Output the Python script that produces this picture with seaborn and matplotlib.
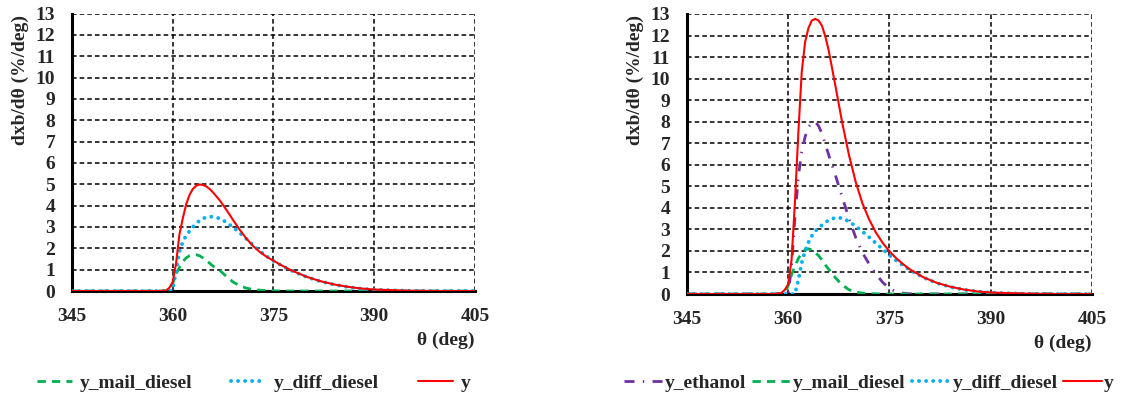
import numpy as np
import pandas as pd
import matplotlib
matplotlib.use('Agg')
import matplotlib.pyplot as plt
import seaborn as sns

# crank angle samples (deg)
theta = [345, 350, 355, 358, 359, 359.5, 360, 360.5, 361, 361.5,
         362, 362.5, 363, 363.5, 364, 364.5, 365, 365.5, 366, 367,
         368, 369, 370, 371, 372, 373, 374, 375, 376, 377,
         378, 380, 382, 384, 386, 388, 390, 395, 400, 405]

# left panel: diesel only
left_y = [0, 0, 0, 0, 0.02, 0.15, 0.42, 1.3, 2.65, 3.4,
          4.05, 4.5, 4.78, 4.93, 4.99, 4.97, 4.9, 4.78, 4.62, 4.25,
          3.8, 3.32, 2.86, 2.45, 2.1, 1.82, 1.6, 1.42, 1.24, 1.07,
          0.92, 0.66, 0.46, 0.31, 0.2, 0.12, 0.07, 0.015, 0, 0]
left_diff = [0, 0, 0, 0, 0, 0, 0.05, 0.95, 1.85, 2.3,
             2.6, 2.8, 3.0, 3.15, 3.3, 3.4, 3.45, 3.48, 3.48, 3.4,
             3.22, 2.98, 2.72, 2.43, 2.14, 1.86, 1.62, 1.41, 1.23, 1.06,
             0.91, 0.65, 0.45, 0.3, 0.19, 0.11, 0.06, 0.01, 0, 0]
left_mail = [0, 0, 0, 0, 0, 0.05, 0.35, 0.8, 1.1, 1.38,
             1.55, 1.65, 1.7, 1.7, 1.65, 1.55, 1.45, 1.3, 1.17, 0.97,
             0.68, 0.42, 0.24, 0.13, 0.07, 0.04, 0.02, 0.01, 0, 0,
             0, 0, 0, 0, 0, 0, 0, 0, 0, 0]

# right panel: ethanol + diesel
right_y = [0, 0, 0, 0, 0.05, 0.2, 0.45, 1.6, 4.3, 7.5,
           10.3, 11.7, 12.35, 12.7, 12.77, 12.7, 12.45, 11.95, 11.3, 9.65,
           7.95, 6.45, 5.2, 4.2, 3.45, 2.85, 2.37, 1.98, 1.66, 1.39,
           1.15, 0.78, 0.52, 0.34, 0.21, 0.12, 0.07, 0.02, 0, 0]
right_eth = [0, 0, 0, 0, 0, 0, 0, 1.3, 3.6, 5.45,
             6.6, 7.3, 7.75, 7.95, 8.0, 7.8, 7.45, 6.95, 6.45, 5.5,
             4.5, 3.5, 2.62, 1.92, 1.38, 0.92, 0.54, 0.26, 0.1, 0.04,
             0.01, 0, 0, 0, 0, 0, 0, 0, 0, 0]
right_mail = [0, 0, 0, 0, 0, 0.05, 0.4, 0.9, 1.3, 1.65,
              1.9, 2.05, 2.1, 2.05, 1.93, 1.78, 1.58, 1.35, 1.15, 0.75,
              0.42, 0.2, 0.09, 0.04, 0.02, 0.01, 0, 0, 0, 0,
              0, 0, 0, 0, 0, 0, 0, 0, 0, 0]
right_diff = [0, 0, 0, 0, 0, 0, 0, 0, 0, 0.65,
              1.45, 2.0, 2.4, 2.7, 2.92, 3.07, 3.2, 3.33, 3.42, 3.55,
              3.52, 3.37, 3.15, 2.9, 2.63, 2.36, 2.08, 1.8, 1.55, 1.33,
              1.12, 0.77, 0.51, 0.33, 0.2, 0.12, 0.06, 0.01, 0, 0]

xticks = [345, 360, 375, 390, 405]
yticks = list(range(0, 14))

sns.set_style('white')
plt.rcParams['font.family'] = ['Liberation Serif', 'DejaVu Serif']
plt.rcParams['font.weight'] = 'bold'
plt.rcParams['font.size'] = 14

RED = '#FF0000'
BLUE = '#00B0F0'
GREEN = '#00B050'
PURPLE = '#7030A0'

styles = {
    'y_ethanol': dict(color=PURPLE, lw=2, linestyle=(0, (3.6, 3, 0.5, 3))),
    'y_mail_diesel': dict(color=GREEN, lw=2, linestyle=(0, (3, 2.2))),
    'y_diff_diesel': dict(color=BLUE, lw=2.8, linestyle=(0, (0.01, 1.8)),
                          dash_capstyle='round'),
    'y': dict(color=RED, lw=1.5, linestyle='-'),
}

left_df = pd.DataFrame({'theta': theta, 'y_mail_diesel': left_mail,
                        'y_diff_diesel': left_diff, 'y': left_y})
right_df = pd.DataFrame({'theta': theta, 'y_ethanol': right_eth,
                         'y_mail_diesel': right_mail,
                         'y_diff_diesel': right_diff, 'y': right_y})

fig = plt.figure(figsize=(11.26, 4.01), dpi=100)
ax1 = fig.add_axes([0.0639, 0.2743, 0.3579, 0.692])
ax2 = fig.add_axes([0.6101, 0.2668, 0.3597, 0.6983])


def draw_panel(ax, df, cols):
    for c in cols:
        sns.lineplot(data=df, x='theta', y=c, ax=ax, label=c, zorder=3,
                     **styles[c])
    ax.set_xlim(345, 405)
    ax.set_ylim(0, 13)
    ax.set_xticks(xticks)
    ax.set_yticks(yticks)
    ax.grid(True, color='black', lw=1.1, linestyle=(0, (3, 2)))
    ax.tick_params(length=0, pad=12, labelsize=14)
    for s in ['top', 'right']:
        ax.spines[s].set_visible(False)
    for s in ['left', 'bottom']:
        ax.spines[s].set_color('black')
        ax.spines[s].set_linewidth(2.2)
    ax.set_ylabel('')
    ax.set_xlabel('θ (deg)', loc='right', fontweight='bold', labelpad=5)
    h, l = ax.get_legend_handles_labels()
    if ax.get_legend() is not None:
        ax.get_legend().remove()
    return h, l


h1, l1 = draw_panel(ax1, left_df, ['y_mail_diesel', 'y_diff_diesel', 'y'])
h2, l2 = draw_panel(ax2, right_df, ['y_ethanol', 'y_mail_diesel', 'y_diff_diesel', 'y'])

fig.text(0.018, 1 - 15 / 401, 'dxb/dθ (%/deg)', rotation=90, va='top',
         ha='center', fontweight='bold', fontsize=14)
fig.text(0.564, 1 - 15 / 401, 'dxb/dθ (%/deg)', rotation=90, va='top',
         ha='center', fontweight='bold', fontsize=14)

fig.legend(h1, l1, loc='center', bbox_to_anchor=(0.2251, 0.045), ncol=3,
           frameon=False, handlelength=1.8, handletextpad=0.4,
           columnspacing=2.0, prop={'weight': 'bold', 'size': 14})
fig.legend(h2, l2, loc='center', bbox_to_anchor=(0.7718, 0.045), ncol=4,
           frameon=False, handlelength=2.0, handletextpad=0.1,
           columnspacing=0.3, prop={'weight': 'bold', 'size': 14})

fig.savefig('out.png', dpi=100)
